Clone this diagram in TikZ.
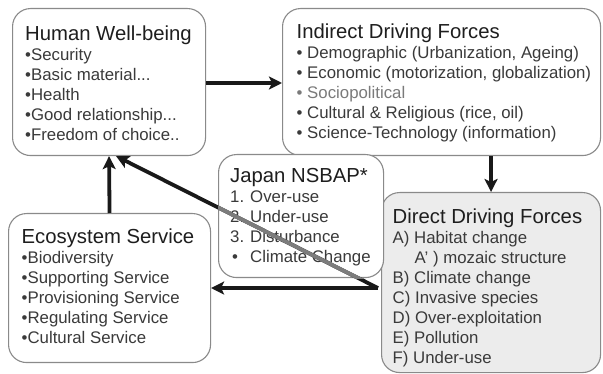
\documentclass[tikz,border=0pt]{standalone}
\usepackage{fontspec}
\setmainfont{Liberation Sans}
\usetikzlibrary{arrows.meta}
\definecolor{bBox}{HTML}{8A8A8A}
\definecolor{cDirect}{HTML}{ECECEC}
\definecolor{tItem}{HTML}{3A3A3A}
\definecolor{tTitle}{HTML}{1E1E1E}
\definecolor{tFaint}{HTML}{7A7A7A}
\definecolor{aDiag}{HTML}{7C7C7C}
\tikzset{
  box/.style={draw=bBox, rounded corners=18pt, line width=1.1pt, inner sep=0pt,
              anchor=north west, fill=white},
  dirbox/.style={box, fill=cDirect},
  txt/.style={anchor=north west, inner sep=0pt, align=left, text=tItem,
              font=\fontsize{16.8}{20}\selectfont},
  arr/.style={-{Stealth[length=13pt,width=13pt,inset=3pt]}, draw=black!90, line width=3.8pt},
}
\newcommand{\ttl}[1]{{\fontsize{20.3}{20}\selectfont\color{tTitle}#1}}
\newcommand{\num}[1]{\makebox[20pt][l]{#1}}

\begin{document}
\begin{tikzpicture}[x=1pt, y=-1pt]
\useasboundingbox[fill=white] (0,0) rectangle (603,374);

% Human well-being
\node[box, minimum width=193pt, minimum height=147pt] (hwb) at (12,8) {};
\node[txt] (hwbt) at (25,26) {\ttl{Human Well-being}\\
  •Security\\ •Basic material...\\ •Health\\ •Good relationship...\\ •Freedom of choice..};

% Indirect driving forces
\node[box, minimum width=318pt, minimum height=147pt] (idf) at (282,8) {};
\node[txt] (idft) at (296.5,23.5) {\ttl{Indirect Driving Forces}\\
  • Demographic (Urbanization, Ageing)\\
  • Economic (motorization, globalization)\\
  {\color{tFaint}• Sociopolitical}\\
  • Cultural \& Religious (rice, oil)\\
  • Science-Technology (information)};

% Direct driving forces
\node[dirbox, minimum width=219pt, minimum height=180pt] (ddf) at (381,192) {};
\node[txt] (ddft) at (392.5,208.5) {\ttl{Direct Driving Forces}\\
  A) Habitat change\\
  \hspace*{22pt}A’ ) mozaic structure\\
  B) Climate change\\ C) Invasive species\\ D) Over-exploitation\\
  E) Pollution\\ F) Under-use};

% Ecosystem service
\node[box, minimum width=202pt, minimum height=149pt] (eco) at (8,213) {};
\node[txt] (ecot) at (21.5,229) {\ttl{Ecosystem Service}\\
  •Biodiversity\\ •Supporting Service\\ •Provisioning Service\\
  •Regulating Service\\ •Cultural Service};

% Japan NSBAP
\node[box, minimum width=165pt, minimum height=123pt] (nsbap) at (218,154) {};
\node[txt] (nsbapt) at (230,168.5) {\ttl{Japan NSBAP*}\\
  \num{1.}Over-use\\ \num{2.}Under-use\\ \num{3.}Disturbance\\
  \num{\hspace{2pt}•}Climate Change};

% Loop arrows
\coordinate (ddfin) at ([xshift=-3pt]eco.east -| ddf.west);
\draw[arr] (hwb.east |- 0,83) -- (idf.west |- 0,83);
\draw[arr] (idf.south -| ddf.north) -- (ddf.north);
\draw[arr] (ddfin) -- (eco.east |- ddfin);
\draw[arr] (eco.north) -- (hwb.south);

% Diagonal feedback, greyed where it crosses the NSBAP box
\draw[arr] (ddfin) -- ([xshift=7pt]hwb.south);
\begin{scope}
  \clip (nsbap.north west) rectangle (nsbap.south east);
  \draw[line width=3.8pt, draw=aDiag] (ddfin) -- ([xshift=7pt]hwb.south);
\end{scope}

\end{tikzpicture}
\end{document}
